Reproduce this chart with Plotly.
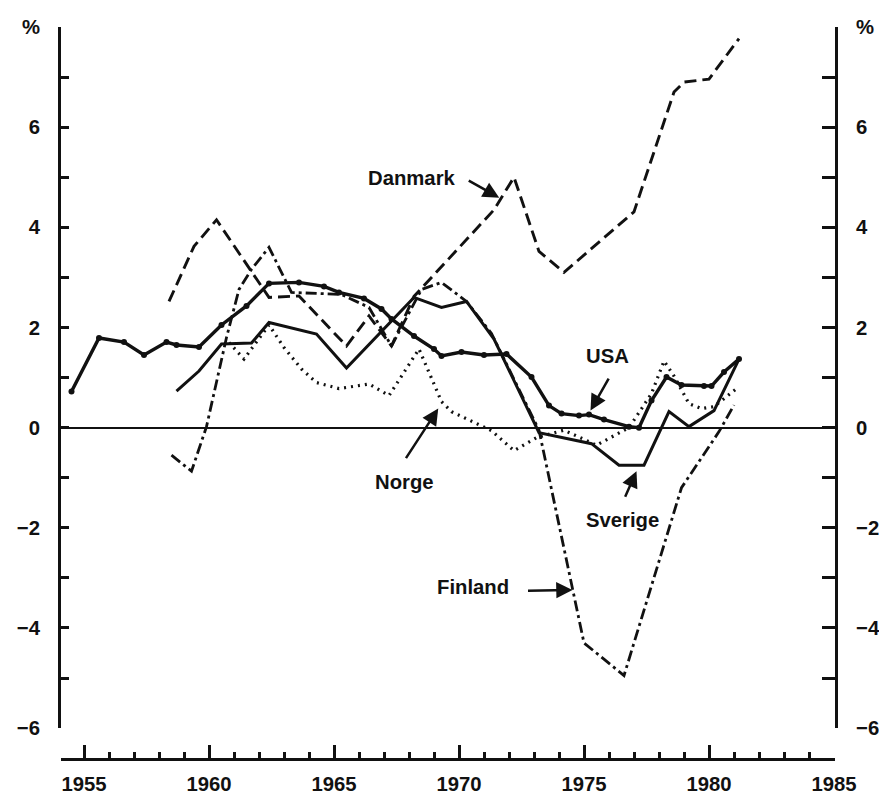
import plotly.graph_objects as go

# ---- data (year, percent) ----
usa_x = [1954.5, 1955.6, 1956.6, 1957.4, 1958.3, 1958.7, 1959.6, 1960.5, 1961.5, 1962.4,
         1963.6, 1964.6, 1965.2, 1966.2, 1966.9, 1967.3, 1968.2, 1969.0, 1969.3, 1970.1,
         1971.0, 1971.9, 1972.9, 1973.6, 1974.1, 1974.8, 1975.2, 1975.8, 1976.8, 1977.2,
         1977.7, 1978.3, 1978.9, 1979.8, 1980.1, 1980.6, 1981.2]
usa_y = [0.72, 1.79, 1.71, 1.45, 1.71, 1.65, 1.61, 2.05, 2.43, 2.88,
         2.90, 2.82, 2.70, 2.58, 2.37, 2.17, 1.83, 1.57, 1.43, 1.51,
         1.45, 1.47, 1.01, 0.44, 0.28, 0.24, 0.26, 0.16, 0.02, 0.00,
         0.54, 1.01, 0.85, 0.83, 0.83, 1.11, 1.37]

sverige_x = [1958.7, 1959.6, 1960.5, 1961.7, 1962.4, 1964.3, 1965.5, 1966.9, 1968.2, 1969.3,
             1970.3, 1971.4, 1973.2, 1975.3, 1976.4, 1977.4, 1978.4, 1979.2, 1980.2, 1981.2]
sverige_y = [0.73, 1.13, 1.67, 1.69, 2.10, 1.87, 1.19, 1.93, 2.60, 2.40,
             2.52, 1.77, -0.10, -0.32, -0.75, -0.75, 0.32, 0.02, 0.34, 1.37]

danmark_x = [1958.4, 1959.4, 1960.3, 1962.4, 1963.6, 1965.5, 1966.4, 1967.3, 1968.2, 1971.4,
             1972.2, 1973.2, 1974.2, 1977.0, 1978.6, 1979.0, 1980.0, 1981.2]
danmark_y = [2.52, 3.62, 4.15, 2.60, 2.63, 1.63, 2.23, 1.63, 2.62, 4.35,
             5.00, 3.52, 3.10, 4.31, 6.70, 6.90, 6.96, 7.77]

finland_x = [1958.5, 1959.3, 1959.9, 1960.7, 1961.2, 1961.7, 1962.4, 1963.3, 1965.3, 1966.4,
             1967.3, 1968.5, 1969.3, 1970.3, 1971.3, 1973.2, 1975.0, 1976.6, 1978.9, 1979.6,
             1980.4, 1981.0]
finland_y = [-0.55, -0.87, 0.02, 1.80, 2.76, 3.16, 3.60, 2.70, 2.66, 2.40,
             1.63, 2.76, 2.90, 2.52, 1.88, -0.05, -4.30, -4.95, -1.20, -0.68,
             -0.08, 0.45]

norge_x = [1960.8, 1961.4, 1962.4, 1963.0, 1963.7, 1964.3, 1965.2, 1966.4, 1967.2, 1968.4,
           1969.3, 1969.7, 1971.3, 1972.2, 1973.1, 1974.2, 1975.5, 1976.8, 1977.7, 1978.2,
           1978.6, 1979.2, 1979.7, 1980.2, 1981.2]
norge_y = [1.70, 1.37, 2.05, 1.60, 1.17, 0.90, 0.78, 0.87, 0.64, 1.57,
           0.52, 0.32, -0.06, -0.46, -0.20, -0.05, -0.35, 0.00, 0.68, 1.33,
           1.03, 0.48, 0.38, 0.42, 0.82]

# labels: name, text position, arrow tail, arrow head
labels = [
    ("Danmark", (1968.1, 4.99), (1970.33, 4.95), (1971.61, 4.59)),
    ("USA", (1975.95, 1.43), (1976.02, 1.01), (1975.26, 0.34)),
    ("Norge", (1967.8, -1.09), (1967.84, -0.64), (1969.17, 0.38)),
    ("Sverige", (1976.55, -1.85), (1976.62, -1.41), (1977.1, -0.87)),
    ("Finland", (1970.55, -3.18), (1972.7, -3.26), (1974.54, -3.24)),
]

y_ticks = list(range(-6, 9))
y_text = ["−6", "", "−4", "", "−2", "", "0", "", "2", "", "4", "", "6", "", "%"]
x_ticks = [1955, 1960, 1965, 1970, 1975, 1980, 1985]

# the page comes out slightly shrunk in the screenshot, so size everything up a bit
S = 1.015

INK = "#111111"
FONT = dict(family="Liberation Sans, Arial, sans-serif", size=20 * S, color=INK, weight="bold")

fig = go.Figure()

fig.add_trace(go.Scatter(x=danmark_x, y=danmark_y, mode="lines",
                         line=dict(color=INK, width=2.9, dash="12px,6px")))
fig.add_trace(go.Scatter(x=finland_x, y=finland_y, mode="lines",
                         line=dict(color=INK, width=2.8, dash="11px,4px,3px,4px")))
fig.add_trace(go.Scatter(x=norge_x, y=norge_y, mode="lines",
                         line=dict(color=INK, width=3.2, dash="2px,5px")))
fig.add_trace(go.Scatter(x=sverige_x, y=sverige_y, mode="lines",
                         line=dict(color=INK, width=3.0)))
fig.add_trace(go.Scatter(x=usa_x, y=usa_y, mode="lines+markers",
                         line=dict(color=INK, width=3.4),
                         marker=dict(color=INK, size=6)))
# carries the right-hand axis
fig.add_trace(go.Scatter(x=[], y=[], yaxis="y2"))

for name, txt, tail, head in labels:
    fig.add_annotation(x=txt[0], y=txt[1], text=name, showarrow=False, font=FONT)
    fig.add_annotation(x=head[0], y=head[1], ax=tail[0], ay=tail[1],
                       axref="x", ayref="y", text="", showarrow=True,
                       arrowhead=2, arrowsize=1.3, arrowwidth=2.5, arrowcolor=INK)

axis_common = dict(range=[-6, 8], tickmode="array", tickvals=y_ticks, ticktext=y_text,
                   showline=True, linewidth=3, linecolor=INK, ticks="inside",
                   tickwidth=3, tickcolor=INK, showgrid=False, tickfont=FONT,
                   ticklabelstandoff=round(14 * S))

fig.update_layout(
    width=round(879 * S), height=round(795 * S),
    margin=dict(l=60 * S, r=46 * S, t=27 * S, b=33 * S),
    paper_bgcolor="white", plot_bgcolor="white",
    showlegend=False,
    xaxis=dict(range=[1954.08, 1985.04], anchor="free", position=0,
               tickmode="array", tickvals=x_ticks,
               showline=True, linewidth=3, linecolor=INK,
               ticks="inside", ticklen=13 * S, tickwidth=3, tickcolor=INK,
               minor=dict(dtick=1, ticks="inside", ticklen=6 * S, tickwidth=2.5, tickcolor=INK),
               showgrid=False, zeroline=False, tickfont=FONT,
               ticklabelstandoff=round(6 * S)),
    yaxis=dict(domain=[0.0422, 1], anchor="x", side="left", ticklen=8 * S,
               zeroline=True, zerolinewidth=2, zerolinecolor=INK, **axis_common),
    yaxis2=dict(overlaying="y", anchor="x", side="right", ticklen=13 * S,
                zeroline=False, **axis_common),
)

fig.write_html("out.html", config={"displayModeBar": False},
               post_script="document.body.style.margin='0';")
